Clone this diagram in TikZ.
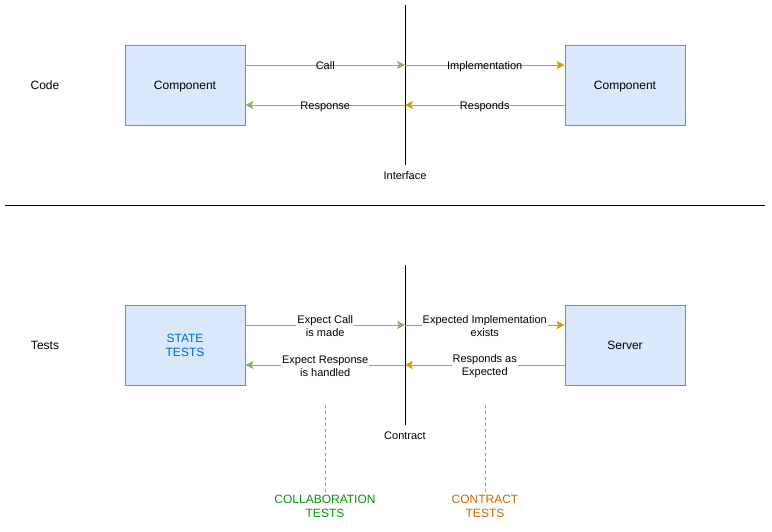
\documentclass[tikz,border=0pt]{standalone}
\usepackage{fontspec}
\setmainfont{Liberation Sans}
\usetikzlibrary{arrows.meta}
\definecolor{boxfill}{HTML}{DAE8FC}
\definecolor{boxdraw}{HTML}{6C8EBF}
\definecolor{grn}{HTML}{82B366}
\definecolor{org}{HTML}{D79B00}
\definecolor{stblue}{HTML}{0066CC}
\definecolor{colgreen}{HTML}{009900}
\definecolor{conorange}{HTML}{CC6600}
\tikzset{
  comp/.style={draw=boxdraw, fill=boxfill, line width=1pt, minimum width=120pt, minimum height=80pt, inner sep=0pt, font=\fontsize{12}{14}\selectfont, align=center},
  one/.style={text height=9pt, text depth=0pt},
  plain/.style={inner sep=1pt, font=\fontsize{12}{14}\selectfont, align=center},
  elab/.style={inner sep=1pt, font=\fontsize{11}{13}\selectfont, align=center, text height=8.5pt, text depth=0pt},
  elabw/.style={inner sep=1pt, font=\fontsize{11}{13}\selectfont, align=center, fill=white, yshift=-1pt},
  garrow/.style={draw=grn, line width=1pt, -{Stealth[length=8pt,width=8pt,inset=2pt]}},
  oarrow/.style={draw=org, line width=1pt, -{Stealth[length=8pt,width=8pt,inset=2pt]}},
  divider/.style={draw=black, line width=1pt},
  marker/.style={line width=1pt, dash pattern=on 3pt off 3pt},
}
\begin{document}
\begin{tikzpicture}[x=1pt,y=-1pt]
\useasboundingbox (0,0) rectangle (772,531);
% ---------- Code row ----------
\node[plain, one] (code) at (45,85) {Code};
\node[comp, one] (c1) at (185,85) {Component};
\node[comp, one] (c2) at (625,85) {Component};
\coordinate (itop) at (405,5);
\coordinate (ibot) at (405,165);
\draw[divider] (itop) -- (ibot);
\node[elab] (iface) at (405,175) {Interface};
\coordinate (i1) at (405,65);
\coordinate (i2) at (405,105);
\draw[garrow] (c1.east |- i1) -- node[elab] {Call} (i1);
\draw[oarrow] (i1) -- node[elab] {Implementation} (c2.west |- i1);
\draw[oarrow] (c2.west |- i2) -- node[elab] {Responds} (i2);
\draw[garrow] (i2) -- node[elab] {Response} (c1.east |- i2);
% ---------- separator ----------
\coordinate (sl) at (5,205);
\coordinate (sr) at (765,205);
\draw[divider] (sl) -- (sr);
% ---------- Tests row ----------
\node[plain, one] (tests) at (45,345) {Tests};
\node[comp, text=stblue] (st) at (185,345) {STATE\\TESTS};
\node[comp, one] (srv) at (625,345) {Server};
\coordinate (ctop) at (405,265);
\coordinate (cbot) at (405,425);
\draw[divider] (ctop) -- (cbot);
\node[elab] (contract) at (405,435) {Contract};
\coordinate (k1) at (405,325);
\coordinate (k2) at (405,365);
\draw[garrow] (st.east |- k1) -- node[elabw] {Expect Call\\is made} (k1);
\draw[oarrow] (k1) -- node[elabw] {Expected Implementation\\exists} (srv.west |- k1);
\draw[oarrow] (srv.west |- k2) -- node[elabw] {Responds as\\Expected} (k2);
\draw[garrow] (k2) -- node[elabw] {Expect Response\\is handled} (st.east |- k2);
% ---------- dashed markers ----------
\node[plain, text=colgreen] (collab) at (325,506) {COLLABORATION\\TESTS};
\node[plain, text=conorange] (ctests) at (485,506) {CONTRACT\\TESTS};
\coordinate (d1) at (325,405);
\coordinate (d2) at (485,405);
\draw[marker, draw=grn] (d1) -- (collab.north);
\draw[marker, draw=org] (d2) -- (ctests.north);
\end{tikzpicture}
\end{document}
